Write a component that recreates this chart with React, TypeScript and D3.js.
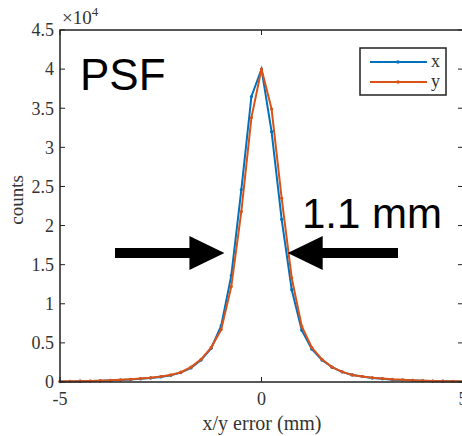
import React from "react";
import * as d3 from "d3";

const xPositions = d3.range(-5, 5.0001, 0.25).map((v) => +v.toFixed(2));
const seriesX = [
  0.005, 0.007, 0.01, 0.012, 0.015, 0.02, 0.025, 0.032, 0.04, 0.05, 0.065, 0.085, 0.12, 0.18,
  0.28, 0.43, 0.72, 1.36, 2.46, 3.65, 4.0, 3.2, 2.08, 1.18, 0.66, 0.42, 0.28, 0.19, 0.13, 0.09,
  0.07, 0.05, 0.04, 0.03, 0.025, 0.02, 0.015, 0.012, 0.01, 0.008, 0.006,
].map((v) => v * 1e4);
const seriesY = [
  0.006, 0.008, 0.011, 0.013, 0.017, 0.022, 0.028, 0.035, 0.045, 0.055, 0.07, 0.09, 0.125, 0.19,
  0.29, 0.44, 0.67, 1.22, 2.18, 3.38, 4.0, 3.49, 2.35, 1.33, 0.71, 0.44, 0.29, 0.19, 0.13, 0.09,
  0.07, 0.055, 0.045, 0.035, 0.028, 0.022, 0.017, 0.013, 0.01, 0.008, 0.006,
].map((v) => v * 1e4);
const xTicks = [-5, 0, 5];
const yTicks = [0, 0.5, 1, 1.5, 2, 2.5, 3, 3.5, 4, 4.5];
const seriesNames = ["x", "y"];
const colors = ["#0072BD", "#D95319"];

export default function App() {
  const W = 462, H = 436;
  const left = 60, right = 463, top = 30, bottom = 382;
  const x = d3.scaleLinear().domain([-5, 5]).range([left, right]);
  const y = d3.scaleLinear().domain([0, 45000]).range([bottom, top]);
  const line = d3
    .line<number>()
    .x((_, i) => x(xPositions[i]))
    .y((d) => y(d));
  const series = [seriesX, seriesY];
  const serif = "'Liberation Serif', 'Times New Roman', serif";
  const sans = "'Liberation Sans', Arial, sans-serif";
  const tick = 5;

  const arrowY = y(1.65e4);
  const leftTip = x(-0.92);
  const rightTip = x(0.65);
  const headLen = 35, headHalf = 17, shaftHalf = 5;
  const leftStart = 115, rightEnd = 398;

  return (
    <svg width={W} height={H} style={{ position: "absolute", left: 0, top: 0, background: "#fff" }}>
      <rect x={0} y={0} width={W} height={H} fill="#fff" />
      {series.map((s, k) => (
        <g key={k}>
          <path d={line(s) || ""} fill="none" stroke={colors[k]} strokeWidth={2} />
          {s.map((v, i) => (
            <circle key={i} cx={x(xPositions[i])} cy={y(v)} r={1.6} fill={colors[k]} />
          ))}
        </g>
      ))}
      <rect x={left} y={top} width={right - left} height={bottom - top} fill="none" stroke="#222" strokeWidth={1.5} />
      {yTicks.map((t) => (
        <g key={t}>
          <line x1={left} x2={left + tick} y1={y(t * 1e4)} y2={y(t * 1e4)} stroke="#222" strokeWidth={1} />
          <line x1={right} x2={right - tick} y1={y(t * 1e4)} y2={y(t * 1e4)} stroke="#222" strokeWidth={1} />
          <text x={left - 6} y={y(t * 1e4)} dy="0.35em" textAnchor="end" fontFamily={serif} fontSize={18} fill="#333">
            {String(t)}
          </text>
        </g>
      ))}
      {xTicks.map((t) => (
        <g key={t}>
          <line x1={x(t)} x2={x(t)} y1={bottom} y2={bottom - tick} stroke="#222" strokeWidth={1} />
          <line x1={x(t)} x2={x(t)} y1={top} y2={top + tick} stroke="#222" strokeWidth={1} />
          <text x={x(t)} y={405} textAnchor="middle" fontFamily={serif} fontSize={18} fill="#333">
            {t < 0 ? "-" + Math.abs(t) : String(t)}
          </text>
        </g>
      ))}
      <text x={left + 2} y={24} fontFamily={serif} fontSize={19} fill="#333">
        ×10
        <tspan dy={-8} fontSize={13}>4</tspan>
      </text>
      <text x={262} y={430} textAnchor="middle" fontFamily={serif} fontSize={20} fill="#333">
        x/y error (mm)
      </text>
      <text transform={`translate(23,200) rotate(-90)`} textAnchor="middle" fontFamily={serif} fontSize={19} fill="#333">
        counts
      </text>
      <text x={80} y={90} fontFamily={sans} fontSize={44} fill="#000">PSF</text>
      <text x={302} y={228} fontFamily={sans} fontSize={42} fill="#000">1.1 mm</text>
      <path
        d={`M${leftStart},${arrowY - shaftHalf} L${leftTip - headLen},${arrowY - shaftHalf} L${leftTip - headLen},${arrowY - headHalf} L${leftTip},${arrowY} L${leftTip - headLen},${arrowY + headHalf} L${leftTip - headLen},${arrowY + shaftHalf} L${leftStart},${arrowY + shaftHalf} Z`}
        fill="#000"
      />
      <path
        d={`M${rightEnd},${arrowY - shaftHalf} L${rightTip + headLen},${arrowY - shaftHalf} L${rightTip + headLen},${arrowY - headHalf} L${rightTip},${arrowY} L${rightTip + headLen},${arrowY + headHalf} L${rightTip + headLen},${arrowY + shaftHalf} L${rightEnd},${arrowY + shaftHalf} Z`}
        fill="#000"
      />
      <rect x={360} y={48} width={86} height={47} fill="#fff" stroke="#222" strokeWidth={1.5} />
      {seriesNames.map((n, k) => {
        const ly = 62 + k * 20;
        return (
          <g key={n}>
            <line x1={370} x2={427} y1={ly} y2={ly} stroke={colors[k]} strokeWidth={2} />
            <circle cx={398} cy={ly} r={1.8} fill={colors[k]} />
            <text x={431} y={ly} dy="0.3em" fontFamily={serif} fontSize={18} fill="#333">{n}</text>
          </g>
        );
      })}
    </svg>
  );
}
